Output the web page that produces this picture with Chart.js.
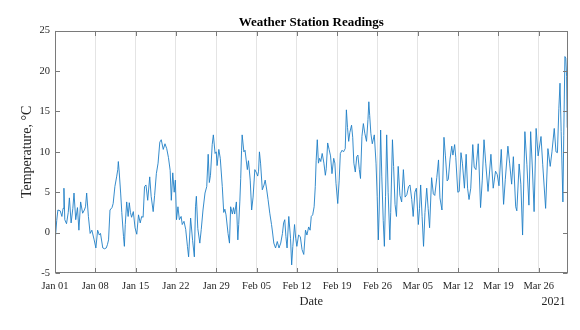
<!DOCTYPE html>
<html>
<head>
<meta charset="utf-8">
<script src="https://cdn.jsdelivr.net/npm/chart.js@4/dist/chart.umd.min.js"></script>
<style>
html,body{margin:0;padding:0;background:#fff;}
canvas{display:block;}
</style>
</head>
<body>
<canvas id="c" width="580" height="330"></canvas>
<script>
// Days since Jan 01 2021 00:00
const dayOffsets = [
0,0.3,0.5,0.9,1.2,1.4,1.55,1.7,2.0,2.3,2.5,2.8,3.1,3.3,3.6,3.9,4.15,4.45,4.8,5.1,5.3,5.5,5.8,6.1,6.4,6.8,7.1,
7.4,7.7,7.9,8.3,8.6,8.9,9.1,9.3,9.55,9.9,10.1,10.4,10.7,10.9,11.0,11.15,11.4,11.6,11.9,12.05,12.2,12.45,12.7,12.9,13.1,13.3,13.6,13.9,14.2,
14.5,14.8,15.05,15.3,15.55,15.8,16.1,16.45,16.7,17.05,17.3,17.6,17.9,18.2,18.45,18.8,19.1,19.4,19.7,20.0,20.2,20.45,20.7,20.9,21.1,
21.35,21.6,21.9,22.1,22.4,22.7,23.0,23.2,23.55,23.9,24.2,24.4,24.55,24.8,25.15,25.4,25.7,26.05,26.35,26.6,26.8,27.0,27.3,27.5,27.8,28.0,28.15,28.45,28.7,
29.05,29.3,29.5,29.7,30.05,30.3,30.5,30.8,31.0,31.2,31.5,31.75,31.9,32.1,32.25,32.4,32.5,32.8,33.0,33.2,33.4,33.6,33.9,34.15,34.4,34.7,35.0,35.2,35.35,35.5,
35.7,36.0,36.3,36.5,36.75,37.0,37.3,37.6,37.75,38.0,38.3,38.6,38.9,39.2,39.5,39.7,39.9,40.1,40.3,40.6,40.9,41.1,41.3,41.6,41.8,42.0,
42.3,42.6,42.9,43.2,43.5,43.75,44.05,44.3,44.5,44.75,45.0,45.2,45.35,45.55,45.75,45.95,46.15,46.4,46.7,46.95,47.1,47.35,47.6,47.85,48.1,48.4,48.6,48.8,49.1,
49.35,49.55,49.85,50.1,50.4,50.6,50.8,51.0,51.2,51.5,51.7,51.9,52.15,52.4,52.6,52.85,53.05,53.3,53.55,53.8,54.1,54.35,54.5,54.65,54.85,55.1,55.45,55.75,55.95,56.15,
56.3,56.55,56.75,57.0,57.2,57.4,57.6,57.85,58.15,58.3,58.6,58.8,59.05,59.3,59.6,59.9,60.2,60.5,60.8,61.1,61.4,61.65,61.95,62.2,62.5,62.75,63.1,
63.3,63.5,63.75,64.0,64.25,64.55,64.8,65.05,65.4,65.7,65.95,66.3,66.6,66.85,67.2,67.55,67.8,68.1,68.3,68.6,68.9,69.1,69.4,69.6,69.95,70.2,
70.5,70.75,71.1,71.4,71.65,71.9,72.2,72.55,72.8,73.1,73.5,73.9,74.2,74.5,74.8,75.2,75.7,76.1,76.5,76.8,77.1,77.5,77.9,
78.2,78.65,78.95,79.3,79.6,80.0,80.2,80.6,80.9,81.2,81.6,81.95,82.3,82.6,82.9,83.2,83.55,83.9,84.4,84.7,85.2,85.6,86.0,86.3,86.7,87.0,87.25,87.5,87.7,87.9,88.2,88.35,88.55,88.7,88.85,88.95
];
const temperatures = [
-1.2,1.5,2.8,2.7,2.0,3.0,5.5,1.6,1.1,2.5,4.3,1.2,3.0,4.9,1.6,3.1,0.3,3.8,2.4,2.8,3.2,4.9,2.0,-0.1,0.3,-0.9,-1.9,
0.3,-0.3,-0.1,-1.9,-2.0,-1.9,-1.5,-0.9,2.8,3.1,3.6,5.7,6.9,7.8,8.8,7.5,4.9,2.5,-0.5,-1.7,1.0,3.8,2.0,3.7,2.5,1.9,2.6,0.6,-0.2,
2.2,1.2,2.0,1.9,5.7,5.9,4.0,6.9,4.5,2.6,4.6,7.3,8.6,11.2,11.5,10.3,11.0,10.4,9.3,7.7,4.0,7.4,5.0,6.5,1.6,
3.2,1.6,2.0,1.0,1.4,0.4,-1.7,-3.0,1.8,-1.0,-3.0,3.2,4.5,0.5,-1.3,0.4,2.8,4.9,5.7,9.7,6.2,7.1,10.9,12.1,9.8,10.0,8.3,10.3,9.2,
5.7,2.5,2.9,2.2,-0.1,-1.3,3.2,2.3,3.1,2.3,3.8,-0.9,1.0,3.9,6.7,10.2,12.1,10.0,10.2,9.0,7.8,8.9,6.5,2.8,4.4,7.8,7.4,7.0,7.6,10.0,
8.6,5.3,5.9,6.5,5.4,4.1,2.4,1.0,0.2,-1.3,-1.9,-1.1,-1.9,-1.3,-0.1,1.2,1.6,-0.5,-1.9,2.0,-0.7,-4.0,-1.7,1.0,-0.7,-1.7,
-0.3,-0.5,-2.1,-2.7,0.3,-0.3,0.7,0.3,2.0,2.2,3.2,5.7,8.9,11.5,8.6,9.2,8.8,9.8,8.6,7.1,7.9,11.1,10.3,9.5,7.3,9.2,8.6,6.1,3.6,
6.5,9.8,10.2,10.0,10.4,15.2,13.0,11.3,12.4,13.3,11.8,8.6,7.5,9.4,9.6,7.8,6.7,11.9,13.5,12.3,11.3,14.0,16.2,14.5,12.3,11.0,12.1,8.6,4.5,-0.9,
2.8,12.7,7.0,1.5,-1.7,4.5,12.1,5.0,-0.9,2.5,11.5,8.2,3.5,2.0,8.2,4.6,3.8,7.8,4.4,4.7,5.7,5.9,4.1,2.0,5.0,5.5,1.0,
3.0,5.9,2.0,-1.7,2.5,5.5,3.0,0.6,6.8,4.8,4.6,6.8,9.0,4.3,2.8,11.8,9.5,6.4,6.6,9.1,10.7,9.6,10.9,9.3,5.0,5.1,
9.9,8.6,5.5,9.7,5.5,4.1,5.5,10.9,8.1,7.8,11.0,3.1,6.5,11.5,8.6,5.1,9.7,5.5,7.6,7.2,5.8,10.3,3.5,
6.6,10.7,8.6,6.0,9.4,3.2,2.7,8.5,6.0,-0.3,12.5,8.4,3.4,12.5,8.0,2.6,12.9,9.5,11.9,8.4,3.0,10.4,8.2,10.0,12.9,10.0,9.9,15.4,18.5,12.5,3.8,12.0,21.8,21.6,19.3,13.0
];
const tickDays = [0,7,14,21,28,35,42,49,56,63,70,77,84];
const tickLabels = ['Jan 01','Jan 08','Jan 15','Jan 22','Jan 29','Feb 05','Feb 12','Feb 19','Feb 26','Mar 05','Mar 12','Mar 19','Mar 26'];
const yTickValues = [-5,0,5,10,15,20,25];
const yearLabel = '2021';

const SERIF = "'Liberation Serif','Times New Roman',serif";
const AXIS_COLOR = '#262626';

const framePlugin = {
  id: 'frame',
  afterDraw(chart) {
    const {ctx, chartArea: a, scales: {x, y}} = chart;
    ctx.save();
    const L = Math.round(a.left) + 0.5, R = Math.round(a.right) - 0.5;
    const T = Math.round(a.top) + 0.5, B = Math.round(a.bottom) - 0.5;
    ctx.strokeStyle = '#7a7a7a';
    ctx.lineWidth = 1;
    ctx.strokeRect(L, T, R - L, B - T);
    ctx.beginPath();
    const tl = 4.5;
    tickDays.forEach(d => {
      const px = Math.round(x.getPixelForValue(d)) + 0.5;
      ctx.moveTo(px, B); ctx.lineTo(px, B - tl);
      ctx.moveTo(px, T); ctx.lineTo(px, T + tl);
    });
    yTickValues.forEach(v => {
      const py = Math.round(y.getPixelForValue(v)) + 0.5;
      ctx.moveTo(L, py); ctx.lineTo(L + tl, py);
      ctx.moveTo(R, py); ctx.lineTo(R - tl, py);
    });
    ctx.stroke();
    ctx.fillStyle = AXIS_COLOR;
    ctx.font = '12px ' + SERIF;
    ctx.textAlign = 'right';
    ctx.textBaseline = 'middle';
    ctx.fillText(yearLabel, a.right - 2, 302);
    ctx.restore();
  }
};

new Chart(document.getElementById('c'), {
  type: 'line',
  data: {
    datasets: [{
      data: dayOffsets.map((d, i) => ({x: d, y: temperatures[i]})),
      borderColor: '#1f7fc6',
      borderWidth: 0.9,
      pointRadius: 0,
      tension: 0,
      fill: false
    }]
  },
  options: {
    responsive: false,
    devicePixelRatio: 1,
    animation: false,
    layout: {padding: {left: 0, right: 12.5, top: 0, bottom: 0}},
    plugins: {
      legend: {display: false},
      tooltip: {enabled: false},
      title: {
        display: true,
        text: 'Weather Station Readings',
        fullSize: false,
        color: '#000',
        font: {family: SERIF, size: 13, weight: 'bold'},
        padding: {top: 14.7, bottom: 0.4}
      }
    },
    scales: {
      x: {
        type: 'linear',
        min: 0,
        max: 89,
        afterBuildTicks: s => { s.ticks = tickDays.map(v => ({value: v})); },
        afterFit: s => { s.height = 57; },
        ticks: {
          autoSkip: false,
          maxRotation: 0,
          padding: 7,
          color: AXIS_COLOR,
          font: {family: SERIF, size: 10.5},
          callback: (v) => { const i = tickDays.indexOf(v); return i >= 0 ? tickLabels[i] : ''; }
        },
        grid: {display: true, color: '#e4e4e4', drawTicks: false, lineWidth: 1},
        border: {display: false},
        title: {
          display: true, text: 'Date', color: AXIS_COLOR,
          font: {family: SERIF, size: 12.5},
          padding: {top: 0, bottom: 21}
        }
      },
      y: {
        type: 'linear',
        min: -5,
        max: 25,
        afterBuildTicks: s => { s.ticks = yTickValues.map(v => ({value: v})); },
        afterFit: s => { s.width = 55; },
        ticks: {
          padding: 5,
          color: AXIS_COLOR,
          font: {family: SERIF, size: 10.5}
        },
        grid: {display: false, drawTicks: false},
        border: {display: false},
        title: {
          display: true, text: 'Temperature, °C', color: AXIS_COLOR,
          font: {family: SERIF, size: 14},
          padding: {top: 19, bottom: 0}
        }
      }
    }
  },
  plugins: [framePlugin]
});
</script>
</body>
</html>
